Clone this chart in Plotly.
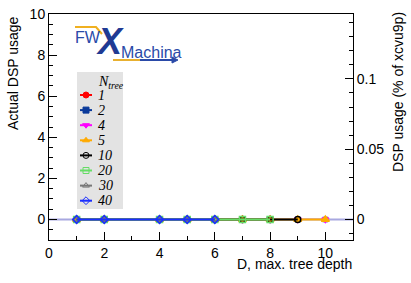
import plotly.graph_objects as go

# ---- data ----
n_trees = ["1", "2", "4", "5", "10", "20", "30", "40"]
depths = {
    "1": [1, 2, 4, 5, 6, 7, 8, 9, 10],
    "2": [1, 2, 4, 5, 6, 7, 8, 9, 10],
    "4": [1, 2, 4, 5, 6, 7, 8, 9, 10],
    "5": [1, 2, 4, 5, 6, 7, 8, 9, 10],
    "10": [1, 2, 4, 5, 6, 7, 8, 9],
    "20": [1, 2, 4, 5, 6, 7, 8],
    "30": [1, 2, 4, 5, 6],
    "40": [1, 2, 4, 5, 6],
}
dsp_usage = {k: [0] * len(v) for k, v in depths.items()}
colors = {"1": "#ff0000", "2": "#0a3a9a", "4": "#ff00ff", "5": "#ffaa00",
          "10": "#000000", "20": "#66dd66", "30": "#777777", "40": "#1a2eff"}
symbols = {"1": "circle", "2": "square", "4": "triangle-down", "5": "triangle-up",
           "10": "circle-open", "20": "square-open", "30": "triangle-up-open", "40": "diamond-open"}
TOTAL_DSP = 6840  # xcvu9p

W, H = 411, 283
L, R, T, B = 49, 58, 14, 43
pw, ph = W - L - R, H - T - B

def px(x):
    return (x - L) / pw

def py(y):
    return (H - B - y) / ph

# styling: hidden (earlier) series drawn thinner / smaller so they sit under later ones
line_w = {"1": 1, "2": 1, "4": 1, "5": 2, "10": 2, "20": 2, "30": 1, "40": 2}
mark_s = {"1": 4, "2": 4, "4": 6, "5": 7, "10": 6, "20": 6, "30": 6, "40": 6}

fig = go.Figure()
for k in n_trees:
    fig.add_trace(go.Scatter(
        x=depths[k], y=dsp_usage[k], mode="lines+markers", name=k, showlegend=False,
        line=dict(color=colors[k], width=line_w[k]),
        marker=dict(symbol=symbols[k], color=colors[k], size=mark_s[k],
                    line=dict(color=colors[k], width=1.5)),
    ))
# invisible trace on secondary axis
fig.add_trace(go.Scatter(x=[0], y=[0], yaxis="y2", mode="markers",
                         marker=dict(opacity=0), showlegend=False, hoverinfo="skip"))

# ---- manual legend on its own small axes ----
LEG_X0, LEG_X1, LEG_Y0, LEG_Y1 = 77, 123, 72, 209   # legend box in pixels
ITEM0, STEP = 95, 15.1
fig.add_shape(type="rect", xref="paper", yref="paper",
              x0=px(LEG_X0), x1=px(LEG_X1), y0=py(LEG_Y1), y1=py(LEG_Y0),
              fillcolor="#e3e3e3", line=dict(width=0), layer="below")
for i, k in enumerate(n_trees):
    fig.add_trace(go.Scatter(
        x=[3, 9, 15], y=[i, i, i], xaxis="x3", yaxis="y3", mode="lines",
        line=dict(color=colors[k], width=2), showlegend=False, hoverinfo="skip"))
    fig.add_trace(go.Scatter(
        x=[9], y=[i], xaxis="x3", yaxis="y3", mode="markers",
        marker=dict(symbol=symbols[k], color=colors[k], size=6,
                    line=dict(color=colors[k], width=1)),
        showlegend=False, hoverinfo="skip"))
    fig.add_annotation(text=k, xref="x3", yref="y3", x=19, y=i, xanchor="left",
                       yanchor="middle", showarrow=False,
                       font=dict(family="Liberation Serif", size=14, color="black",
                                 style="italic"))
fig.add_annotation(text="<i>N</i><sub><i>tree</i></sub>", xref="x3", yref="y3",
                   x=19, y=-0.85, xanchor="left", yanchor="middle", showarrow=False,
                   font=dict(family="Liberation Serif", size=14, color="black"))

axfont = dict(family="Liberation Sans, Arial", size=14, color="black")
fig.update_layout(
    width=W, height=H,
    margin=dict(l=L, r=R, t=T, b=B, autoexpand=False),
    paper_bgcolor="white", plot_bgcolor="rgba(0,0,0,0)",
    font=axfont,
    showlegend=False,
    xaxis=dict(range=[0, 11], tickvals=[0, 2, 4, 6, 8, 10], ticks="inside", ticklen=8,
               tickcolor="black", showline=True, linecolor="black", linewidth=1,
               mirror=True, showgrid=False, zeroline=False, tickfont=axfont,
               automargin=False,
               minor=dict(dtick=1, ticks="inside", ticklen=4, tickcolor="black")),
    yaxis=dict(range=[-1, 10], tickvals=[0, 2, 4, 6, 8, 10], ticks="inside", ticklen=8,
               tickcolor="black", showline=True, linecolor="black", linewidth=1,
               showgrid=False, zeroline=False, tickfont=axfont, automargin=False,
               minor=dict(dtick=0.5, ticks="inside", ticklen=4, tickcolor="black")),
    yaxis2=dict(overlaying="y", side="right",
                range=[-100 / TOTAL_DSP, 1000 / TOTAL_DSP],
                tickvals=[0, 0.05, 0.1], ticktext=["0", "0.05", "0.1"],
                ticks="inside", ticklen=8, tickcolor="black",
                showline=True, linecolor="black", linewidth=1,
                showgrid=False, zeroline=False, tickfont=axfont, automargin=False,
                minor=dict(dtick=0.01, ticks="inside", ticklen=4, tickcolor="black")),
    xaxis3=dict(domain=[px(LEG_X0), px(LEG_X1)], range=[0, LEG_X1 - LEG_X0],
                anchor="y3", visible=False, fixedrange=True),
    yaxis3=dict(domain=[py(LEG_Y1), py(LEG_Y0)],
                range=[(LEG_Y1 - ITEM0) / STEP, (LEG_Y0 - ITEM0) / STEP],
                anchor="x3", visible=False, fixedrange=True),
)

# zero reference line on secondary axis
fig.add_shape(type="line", xref="paper", yref="y2", x0=0, x1=1, y0=0, y1=0,
              line=dict(color="#a8a8e0", width=2), layer="below")

# axis titles
fig.add_annotation(text="Actual DSP usage", xref="paper", yref="paper",
                   x=px(13), y=1, xanchor="center", yanchor="top", textangle=-90,
                   showarrow=False, font=axfont)
fig.add_annotation(text="DSP usage (% of xcvu9p)", xref="paper", yref="paper",
                   x=px(398), y=py(10), xanchor="center", yanchor="top", textangle=-90,
                   showarrow=False, font=axfont)
fig.add_annotation(text="D, max. tree depth", xref="paper", yref="paper",
                   x=px(354), y=py(264), xanchor="right", yanchor="middle",
                   showarrow=False, font=axfont)

# FW X Machina logo
fig.add_shape(type="path", xref="paper", yref="paper",
              path=f"M {px(75)},{py(27)} L {px(96)},{py(27)} L {px(102)},{py(34)}",
              line=dict(color="#f0b020", width=2))
fig.add_shape(type="line", xref="paper", yref="paper",
              x0=px(113), y0=py(60), x1=px(140), y1=py(60),
              line=dict(color="#e8b030", width=2))
fig.add_shape(type="line", xref="paper", yref="paper",
              x0=px(140), y0=py(60), x1=px(174), y1=py(60),
              line=dict(color="#2a4aa8", width=2))
fig.add_shape(type="path", xref="paper", yref="paper",
              path=f"M {px(172)},{py(57)} L {px(178)},{py(60)} L {px(172)},{py(63)} Z",
              fillcolor="#2a4aa8", line=dict(color="#2a4aa8", width=1))
fig.add_annotation(text="FW", xref="paper", yref="paper", x=px(73), y=py(37),
                   xanchor="left", yanchor="middle", showarrow=False,
                   font=dict(family="Liberation Sans", size=16, color="#2a4aa8"))
fig.add_annotation(text="<b><i>X</i></b>", xref="paper", yref="paper", x=px(110), y=py(42),
                   xanchor="center", yanchor="middle", showarrow=False,
                   font=dict(family="Liberation Sans", size=36, color="#1f3a93"))
fig.add_annotation(text="Machina", xref="paper", yref="paper", x=px(119), y=py(52),
                   xanchor="left", yanchor="middle", showarrow=False,
                   font=dict(family="Liberation Sans", size=16, color="#2a4aa8"))

fig.write_html("out.html", post_script="document.body.style.margin='0px';",
               config={"displayModeBar": False})
